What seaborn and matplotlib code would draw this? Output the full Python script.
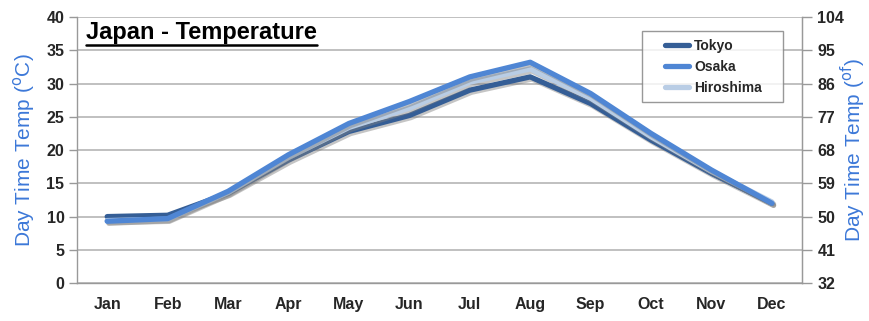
import numpy as np
import pandas as pd
import matplotlib
matplotlib.use("Agg")
import matplotlib.pyplot as plt
import matplotlib.patheffects as pe
from matplotlib.lines import Line2D
from matplotlib.legend_handler import HandlerBase
import seaborn as sns

months = ["Jan", "Feb", "Mar", "Apr", "May", "Jun", "Jul", "Aug", "Sep", "Oct", "Nov", "Dec"]
tokyo = [10.0, 10.2, 13.5, 18.5, 22.8, 25.2, 29.0, 31.0, 27.0, 21.5, 16.5, 12.0]
osaka = [9.3, 9.7, 13.8, 19.3, 24.0, 27.3, 31.0, 33.2, 28.5, 22.5, 17.0, 12.0]
hiroshima = [9.4, 9.6, 13.6, 18.9, 23.4, 26.3, 30.2, 32.2, 27.8, 22.0, 16.8, 12.2]
c_ticks = [0, 5, 10, 15, 20, 25, 30, 35, 40]
f_ticks = [32, 41, 50, 59, 68, 77, 86, 95, 104]

series = {"Tokyo": tokyo, "Osaka": osaka, "Hiroshima": hiroshima}
colors = {"Tokyo": "#355E96", "Osaka": "#4F86D4", "Hiroshima": "#B9CDE5"}

df = pd.DataFrame({
    "month": np.tile(np.arange(len(months)), len(series)),
    "temp": np.concatenate([series[k] for k in series]),
    "city": np.repeat(list(series.keys()), len(months)),
})

sns.set_style("white")
plt.rcParams["font.family"] = ["Liberation Sans", "DejaVu Sans"]

fig = plt.figure(figsize=(8.7, 3.21), dpi=100)
ax = fig.add_axes([0.0885, 0.118, 0.8335, 0.829])

sns.lineplot(data=df, x="month", y="temp", hue="city", palette=colors,
             hue_order=["Tokyo", "Hiroshima", "Osaka"], lw=3.8, ax=ax, legend=False,
             solid_capstyle="round", solid_joinstyle="round")
for ln in ax.lines:
    ln.set_path_effects([pe.SimpleLineShadow(offset=(1.2, -1.5), shadow_color="#808080", alpha=0.45),
                         pe.Normal()])

ax.set_xlim(-0.5, 11.5)
ax.set_ylim(0, 40)
ax.set_yticks(c_ticks)
ax.set_yticklabels([str(t) for t in c_ticks], fontsize=11.5, fontweight="bold")
ax.set_xticks(np.arange(len(months)))
ax.set_xticklabels(months, fontsize=11.5, fontweight="bold")
ax.tick_params(axis="x", length=0, pad=10)
ax.set_xticks(np.arange(0.5, 11, 1), minor=True)
ax.tick_params(axis="x", which="minor", direction="in", length=5, color="#999999", width=1)
ax.tick_params(axis="y", direction="out", length=6, color="#999999", width=1, pad=3)
ax.yaxis.grid(True, color="#B5B5B5", lw=1.2)
ax.set_axisbelow(True)
ax.spines["top"].set_visible(False)
for s in ["left", "bottom", "right"]:
    ax.spines[s].set_color("#999999")
    ax.spines[s].set_linewidth(1)
ax.set_xlabel("")
ax.set_ylabel("Day Time Temp ($^{\\mathrm{o}}$C)", color="#3C78D8", fontsize=15,
              va="center", ha="center")
ax.yaxis.set_label_coords(-0.073, 0.5)

ax2 = ax.twinx()
ax2.set_ylim(32, 104)
ax2.set_yticks(f_ticks)
ax2.set_yticklabels([str(t) for t in f_ticks], fontsize=11.5, fontweight="bold")
ax2.tick_params(axis="y", direction="out", length=7, color="#999999", width=1, pad=4)
for s in ["top", "left", "bottom"]:
    ax2.spines[s].set_visible(False)
ax2.spines["right"].set_color("#999999")
ax2.set_ylabel("Day Time Temp ($^{\\mathrm{of}}$)", color="#3C78D8", fontsize=15,
               rotation=90, va="center", ha="center")
ax2.yaxis.set_label_coords(1.071, 0.5)


class ShiftedLine(HandlerBase):
    def create_artists(self, legend, orig_handle, xdescent, ydescent, width, height,
                       fontsize, trans):
        y = height / 2 - ydescent
        ln = Line2D([width * 0.39 - xdescent, width - xdescent], [y, y],
                    color=orig_handle.get_color(), lw=orig_handle.get_linewidth(),
                    transform=trans)
        return [ln]


handles = [Line2D([0], [0], color=colors[k], lw=3.8) for k in ["Tokyo", "Osaka", "Hiroshima"]]
leg = ax2.legend(handles, ["Tokyo", "Osaka", "Hiroshima"], loc="upper left",
                 bbox_to_anchor=(0.779, 0.897, 0.1945, 0.05), mode="expand",
                 frameon=True, fancybox=False,
                 prop={"weight": "bold", "size": 10}, handlelength=2.85,
                 handler_map={Line2D: ShiftedLine()},
                 borderpad=0.55, labelspacing=0.5, handletextpad=0.35, borderaxespad=0)
leg.get_frame().set_edgecolor("#7F7F7F")
leg.get_frame().set_linewidth(1)

title = ax.text(0.012, 0.985, "Japan - Temperature", transform=ax.transAxes,
                fontsize=17, fontweight="bold", ha="left", va="top", color="black")
fig.canvas.draw()
r = fig.canvas.get_renderer()
bb = title.get_window_extent(renderer=r)
inv = fig.transFigure.inverted()
(x0, y0), (x1, y1) = inv.transform([(bb.x0, bb.y0), (bb.x1, bb.y1)])
fig.add_artist(Line2D([x0, x1], [y0 - 0.004, y0 - 0.004], color="black", lw=1.8,
                      transform=fig.transFigure))

fig.savefig("out.png", dpi=100)
